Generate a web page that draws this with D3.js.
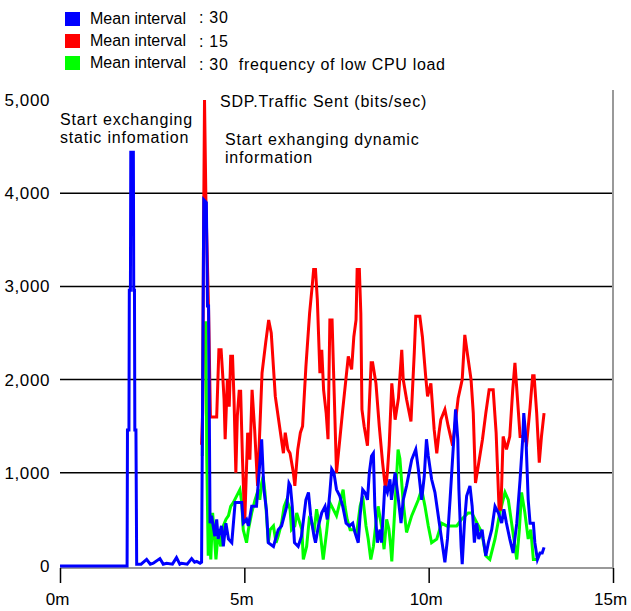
<!DOCTYPE html>
<html>
<head>
<meta charset="utf-8">
<script src="https://cdn.jsdelivr.net/npm/d3@7"></script>
<style>
  html, body { margin: 0; padding: 0; background: #fff; }
  svg { display: block; font-family: "Liberation Sans", Arial, sans-serif; }
</style>
</head>
<body>
<svg id="chart" width="631" height="611"></svg>
<script>
// SDP traffic sent (bits/sec) as [minute, value]
const legendLabels = ['Mean interval', 'Mean interval', 'Mean interval']
const legendSuffix = [': 30', ': 15', ': 30  frequency of low CPU load']
const colors = ['#0000ff', '#ff0000', '#00ff00']
const xTicks = [0, 5, 10, 15]
const yTicks = [0, 1000, 2000, 3000, 4000, 5000]

const blueSeries = [
  [0, 0], [1.82, 0], [1.83, 1460], [1.87, 1460], [1.88, 2960], [1.91, 2960], [1.92, 4440],
  [1.99, 4440], [2.00, 2960], [2.02, 2960], [2.03, 1460], [2.06, 1460], [2.08, 20], [2.20, 20],
  [2.35, 70], [2.45, 20], [2.53, 30], [2.71, 80], [2.80, 20], [2.89, 30], [3.05, 20], [3.16, 90],
  [3.25, 20], [3.30, 30], [3.45, 20], [3.57, 80], [3.65, 40], [3.71, 50], [3.80, 30], [3.84, 40],
  [3.86, 1300], [3.90, 3930], [3.97, 3900], [4.00, 2790], [4.03, 2790], [4.07, 460], [4.11, 540],
  [4.20, 320], [4.25, 500], [4.29, 290], [4.38, 430], [4.43, 210], [4.50, 460], [4.57, 290],
  [4.66, 250], [4.75, 680], [4.93, 680], [4.97, 460], [5.06, 500], [5.11, 430], [5.20, 640],
  [5.33, 640], [5.47, 1360], [5.53, 820], [5.60, 600], [5.65, 250], [5.79, 210], [5.92, 390],
  [6.01, 430], [6.15, 640], [6.21, 890], [6.25, 860], [6.30, 640], [6.36, 250], [6.46, 210],
  [6.55, 320], [6.67, 710], [6.74, 790], [6.80, 540], [6.89, 320], [6.93, 250], [7.01, 430],
  [7.10, 570], [7.19, 640], [7.25, 500], [7.32, 790], [7.37, 1040], [7.43, 1000], [7.50, 820],
  [7.59, 750], [7.67, 640], [7.76, 460], [7.85, 430], [7.94, 460], [8.00, 360], [8.09, 250],
  [8.14, 540], [8.21, 820], [8.27, 790], [8.34, 710], [8.39, 1000], [8.45, 1180], [8.50, 1210],
  [8.54, 640], [8.61, 250], [8.68, 390], [8.72, 250], [8.77, 570], [8.81, 860], [8.88, 790],
  [8.95, 930], [8.99, 710], [9.09, 1000], [9.18, 710], [9.25, 460], [9.31, 710], [9.40, 860],
  [9.54, 1140], [9.65, 1250], [9.72, 1040], [9.81, 710], [9.88, 960], [9.94, 1360], [9.99, 1180],
  [10.08, 930], [10.17, 790], [10.26, 540], [10.35, 290], [10.44, 40], [10.51, 290], [10.58, 710],
  [10.67, 1290], [10.73, 1680], [10.79, 1360], [10.82, 820], [10.88, 210], [10.91, 20], [10.97, 460],
  [11.03, 750], [11.12, 860], [11.18, 640], [11.24, 250], [11.30, 460], [11.36, 290], [11.45, 390],
  [11.48, 290], [11.55, 110], [11.62, 250], [11.71, 390], [11.80, 640], [11.89, 570], [11.98, 460],
  [12.04, 610], [12.11, 460], [12.20, 290], [12.29, 140], [12.39, 460], [12.48, 930], [12.55, 1360],
  [12.58, 1640], [12.64, 1360], [12.70, 710], [12.75, 460], [12.84, 460], [12.88, 250], [12.95, 70],
  [13.02, 140], [13.08, 140], [13.13, 200]
]

const redSeries = [
  [3.84, 1300], [3.87, 1650], [3.89, 3320], [3.92, 5000], [3.96, 3860], [4.03, 2750], [4.08, 1600],
  [4.25, 1600], [4.31, 2320], [4.37, 2320], [4.41, 2070], [4.45, 1790], [4.48, 1360], [4.54, 2000],
  [4.59, 1710], [4.63, 2250], [4.68, 2250], [4.72, 1790], [4.77, 1000], [4.81, 1610], [4.86, 1875],
  [4.90, 1875], [4.95, 1140], [5.01, 460], [5.09, 1430], [5.15, 1140], [5.21, 1890], [5.28, 1460],
  [5.36, 860], [5.48, 2070], [5.58, 2400], [5.66, 2640], [5.73, 2500], [5.84, 1820], [5.98, 1430],
  [6.06, 1210], [6.11, 1430], [6.18, 1250], [6.24, 1210], [6.33, 1000], [6.37, 860], [6.45, 1250],
  [6.52, 1430], [6.58, 1500], [6.67, 2140], [6.77, 2710], [6.84, 3000], [6.88, 3180], [6.93, 3180],
  [6.98, 2860], [7.05, 2070], [7.10, 2320], [7.15, 1890], [7.22, 1640], [7.27, 1360], [7.32, 2640],
  [7.38, 2640], [7.50, 1000], [7.59, 1360], [7.67, 1680], [7.82, 2250], [7.91, 2110], [7.97, 2460],
  [8.03, 2640], [8.06, 3180], [8.12, 3180], [8.16, 2710], [8.19, 1680], [8.25, 1500], [8.34, 1290],
  [8.44, 2180], [8.48, 2180], [8.57, 1960], [8.66, 1500], [8.75, 1110], [8.83, 820], [8.88, 1000],
  [8.93, 1300], [9.00, 1960], [9.09, 1570], [9.18, 1800], [9.27, 2320], [9.31, 2000], [9.40, 1790],
  [9.52, 1550], [9.61, 2290], [9.65, 2680], [9.76, 2680], [9.83, 2460], [9.92, 2030], [9.97, 1820],
  [10.06, 1960], [10.15, 1460], [10.22, 1210], [10.28, 1430], [10.33, 1570], [10.44, 1680],
  [10.53, 1500], [10.65, 1290], [10.80, 1800], [10.91, 2000], [10.98, 2480], [11.06, 2250],
  [11.15, 2000], [11.21, 1640], [11.27, 890], [11.36, 1110], [11.46, 1360], [11.55, 1640],
  [11.64, 1890], [11.75, 1890], [11.83, 1430], [11.91, 610], [11.96, 610], [12.02, 1390],
  [12.11, 1250], [12.20, 1390], [12.28, 1890], [12.34, 2180], [12.39, 1900], [12.48, 1390],
  [12.55, 1390], [12.66, 1320], [12.75, 1700], [12.82, 2040], [12.86, 2040], [12.93, 1640],
  [13.00, 1110], [13.06, 1390], [13.13, 1640]
]

const greenSeries = [
  [3.86, 1180], [3.89, 2610], [3.96, 2610], [3.98, 1180], [4.02, 110], [4.05, 460], [4.09, 70],
  [4.14, 570], [4.18, 360], [4.23, 70], [4.29, 360], [4.36, 210], [4.43, 430], [4.50, 500],
  [4.57, 540], [4.63, 640], [4.70, 680], [4.79, 750], [4.88, 820], [4.93, 680], [4.97, 390],
  [5.06, 250], [5.11, 390], [5.20, 570], [5.29, 710], [5.38, 820], [5.42, 710], [5.47, 890],
  [5.51, 960], [5.56, 790], [5.65, 250], [5.70, 390], [5.79, 430], [5.86, 250], [5.92, 320],
  [6.01, 460], [6.08, 640], [6.15, 710], [6.24, 610], [6.28, 390], [6.37, 430], [6.42, 570],
  [6.56, 390], [6.60, 70], [6.69, 210], [6.76, 500], [6.83, 460], [6.89, 360], [6.96, 610],
  [7.05, 390], [7.14, 70], [7.23, 360], [7.32, 680], [7.41, 610], [7.50, 540], [7.59, 680],
  [7.68, 820], [7.73, 640], [7.79, 500], [7.87, 390], [7.96, 390], [8.05, 360], [8.14, 640],
  [8.21, 750], [8.30, 430], [8.36, 290], [8.43, 70], [8.50, 210], [8.57, 460], [8.63, 640],
  [8.72, 430], [8.79, 180], [8.86, 500], [8.92, 400], [8.97, 210], [9.00, 50], [9.08, 600],
  [9.17, 1250], [9.22, 1150], [9.31, 680], [9.40, 360], [9.54, 540], [9.72, 710], [9.81, 820],
  [9.90, 640], [9.99, 430], [10.08, 250], [10.22, 290], [10.35, 460], [10.49, 430], [10.76, 430],
  [10.89, 500], [11.07, 570], [11.17, 570], [11.26, 500], [11.44, 360], [11.55, 110], [11.66, 70],
  [11.80, 290], [11.93, 570], [12.07, 790], [12.16, 710], [12.25, 460], [12.34, 210], [12.39, 70],
  [12.46, 390], [12.52, 790], [12.61, 570], [12.70, 290], [12.77, 390], [12.84, 70], [12.95, 70]
]

const svg = d3.select('#chart')
const plotLeft = 60, plotRight = 613, plotTop = 90, plotBottom = 566
const font = '"Liberation Sans", Arial, sans-serif'

const x = d3.scaleLinear().domain([0, 15]).range([plotLeft, plotRight])
const y = d3.scaleLinear().domain([0, 5000]).range([plotBottom, 100])

// y labels
const yAxis = svg.append('g')
  .attr('transform', `translate(${plotLeft},0)`)
  .call(d3.axisLeft(y).tickValues(yTicks).tickFormat(d3.format(',')).tickSize(0).tickPadding(10))
yAxis.select('.domain').remove()
yAxis.selectAll('text').attr('font-size', 17).attr('fill', '#000')
  .attr('font-family', font).attr('letter-spacing', 0.6)

// horizontal grid
svg.append('g').selectAll('line')
  .data(yTicks.filter(d => d > 0 && d < 5000))
  .enter().append('line')
  .attr('x1', plotLeft).attr('x2', plotRight)
  .attr('y1', d => y(d)).attr('y2', d => y(d))
  .attr('stroke', '#000').attr('stroke-width', 1.5)

// frame: right border and bottom axis line
svg.append('line').attr('x1', plotRight).attr('x2', plotRight)
  .attr('y1', plotTop).attr('y2', plotBottom + 2)
  .attr('stroke', '#999').attr('stroke-width', 2)

const xAxis = svg.append('g')
  .attr('transform', `translate(0,${plotBottom + 2})`)
  .call(d3.axisBottom(x).tickValues(xTicks).tickFormat(d => d + 'm').tickSize(15).tickPadding(10))
xAxis.select('.domain').attr('stroke', '#999').attr('stroke-width', 2)
  .attr('d', `M${plotLeft},0H${plotRight}`)
xAxis.selectAll('.tick line').attr('stroke', '#000').attr('stroke-width', 1.5)
xAxis.selectAll('text').attr('font-size', 17).attr('fill', '#000')
  .attr('font-family', font).attr('dx', -3)

// series, green under red under blue
const line = d3.line().x(d => x(d[0])).y(d => y(d[1]))
const series = [
  {data: greenSeries, color: colors[2]},
  {data: redSeries, color: colors[1]},
  {data: blueSeries, color: colors[0]}
]
svg.append('g').selectAll('path')
  .data(series)
  .enter().append('path')
  .attr('d', d => line(d.data))
  .attr('fill', 'none')
  .attr('stroke', d => d.color)
  .attr('stroke-width', 3)
  .attr('stroke-linejoin', 'miter')

// legend
const legend = svg.append('g').attr('font-size', 16)
legendLabels.forEach((label, i) => {
  const ly = 18 + i * 22
  legend.append('rect').attr('x', 65).attr('y', ly - 6).attr('width', 15).attr('height', 14)
    .attr('fill', colors[i])
  legend.append('text').attr('x', 90).attr('y', ly + 6).text(label)
  legend.append('text').attr('x', 199).attr('y', ly + 5 + i * 1.5).text(legendSuffix[i])
    .attr('xml:space', 'preserve').attr('letter-spacing', 0.7)
})

// annotations
const notes = [
  {x: 60, y: 125, t: 'Start exchanging'},
  {x: 60, y: 143, t: 'static infomation'},
  {x: 220, y: 107, t: 'SDP.Traffic Sent (bits/sec)'},
  {x: 225, y: 145, t: 'Start exhanging dynamic'},
  {x: 225, y: 163, t: 'information'}
]
svg.append('g').attr('font-size', 16).attr('letter-spacing', 0.8).selectAll('text')
  .data(notes)
  .enter().append('text')
  .attr('x', d => d.x).attr('y', d => d.y)
  .text(d => d.t)
</script>
</body>
</html>
